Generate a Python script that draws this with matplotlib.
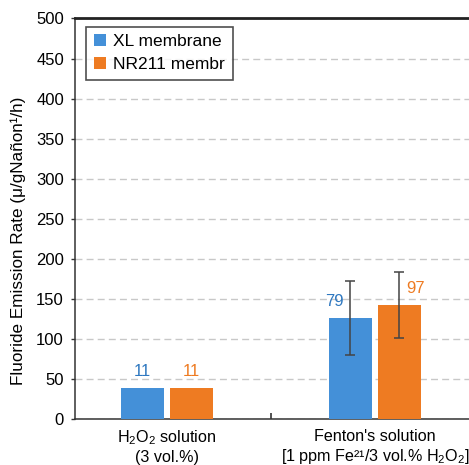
import matplotlib
matplotlib.use("Agg")
import matplotlib.pyplot as plt
import numpy as np

plt.rcParams['font.family'] = ['Liberation Sans', 'DejaVu Sans']
plt.rcParams['mathtext.default'] = 'regular'

# Data
groups = ["H$_2$O$_2$ solution\n(3 vol.%)",
          "Fenton's solution\n[1 ppm Fe²¹/3 vol.% H$_2$O$_2$]"]
series = ["XL membrane", "NR211 membr"]
xl_rate = [39, 126]
nr_rate = [39, 142]
xl_err = [0, 46]
nr_err = [0, 41]
xl_labels = ["11", "79"]
nr_labels = ["11", "97"]

blue = "#4490D8"
orange = "#EE7B22"
blue_txt = "#2F78C0"

fig = plt.figure(figsize=(4.69, 4.65), dpi=100)
ax = fig.add_axes([75 / 469, 1 - 419 / 465, 395 / 469, 400.5 / 465])

x = np.arange(len(groups))
w = 0.207
off = 0.118
ax.bar(x - off, xl_rate, w, color=blue, label=series[0], zorder=3)
ax.bar(x + off, nr_rate, w, color=orange, label=series[1], zorder=3)

# error bars only where a spread was measured
for xs, vals, errs in [(x - off, xl_rate, xl_err), (x + off, nr_rate, nr_err)]:
    for xi, v, e in zip(xs, vals, errs):
        if e > 0:
            ax.errorbar(xi, v, yerr=e, fmt='none', ecolor='#444444',
                        elinewidth=1.1, capsize=3.5, capthick=1.1, zorder=4)

# value annotations
ax.text(x[0] - off, xl_rate[0] + 11, xl_labels[0], color=blue_txt,
        ha='center', va='bottom', fontsize=12)
ax.text(x[0] + off, nr_rate[0] + 11, nr_labels[0], color=orange,
        ha='center', va='bottom', fontsize=12)
ax.text(x[1] - off - 0.075, xl_rate[1] + 11, xl_labels[1], color=blue_txt,
        ha='center', va='bottom', fontsize=12)
ax.text(x[1] + off + 0.077, nr_rate[1] + 11, nr_labels[1], color=orange,
        ha='center', va='bottom', fontsize=12)

ax.set_ylim(0, 500)
ax.set_xlim(-0.442, 1.457)
ax.set_yticks(np.arange(0, 501, 50))
ax.set_xticks(x)
ax.set_xticklabels(groups, fontsize=11.6, linespacing=1.25)
ax.get_xticklabels()[1].set_x(0.985)
ax.set_xticks([0.5], minor=True)
ax.tick_params(axis='x', which='major', length=0, pad=7)
ax.tick_params(axis='x', which='minor', direction='in', length=4,
               width=1.2, color='#333333')
ax.tick_params(axis='y', labelsize=12, length=3, width=1, color='#333333',
               pad=5)

ax.yaxis.grid(True, linestyle=(0, (5, 3)), color='#c8c8c8', linewidth=1,
              zorder=0)
ax.set_axisbelow(True)

for s in ['left', 'bottom']:
    ax.spines[s].set_color('#333333')
    ax.spines[s].set_linewidth(1.1)
ax.spines['top'].set_color('#222222')
ax.spines['top'].set_linewidth(2)
ax.spines['right'].set_visible(False)

fig.text(18 / 469, 1 - 241 / 465,
         "Fluoride Emission Rate (μ/gNañon¹/h)",
         rotation=90, ha='center', va='center', fontsize=12.3)

leg = ax.legend(loc='upper left', bbox_to_anchor=(0.029, 0.980),
                fontsize=12.5, frameon=True, fancybox=False,
                handlelength=0.65, handleheight=0.65, handletextpad=0.45,
                borderpad=0.45, labelspacing=0.45, borderaxespad=0)
leg.get_frame().set_edgecolor('#222222')
leg.get_frame().set_linewidth(1.2)

fig.savefig("out.png", dpi=100)
